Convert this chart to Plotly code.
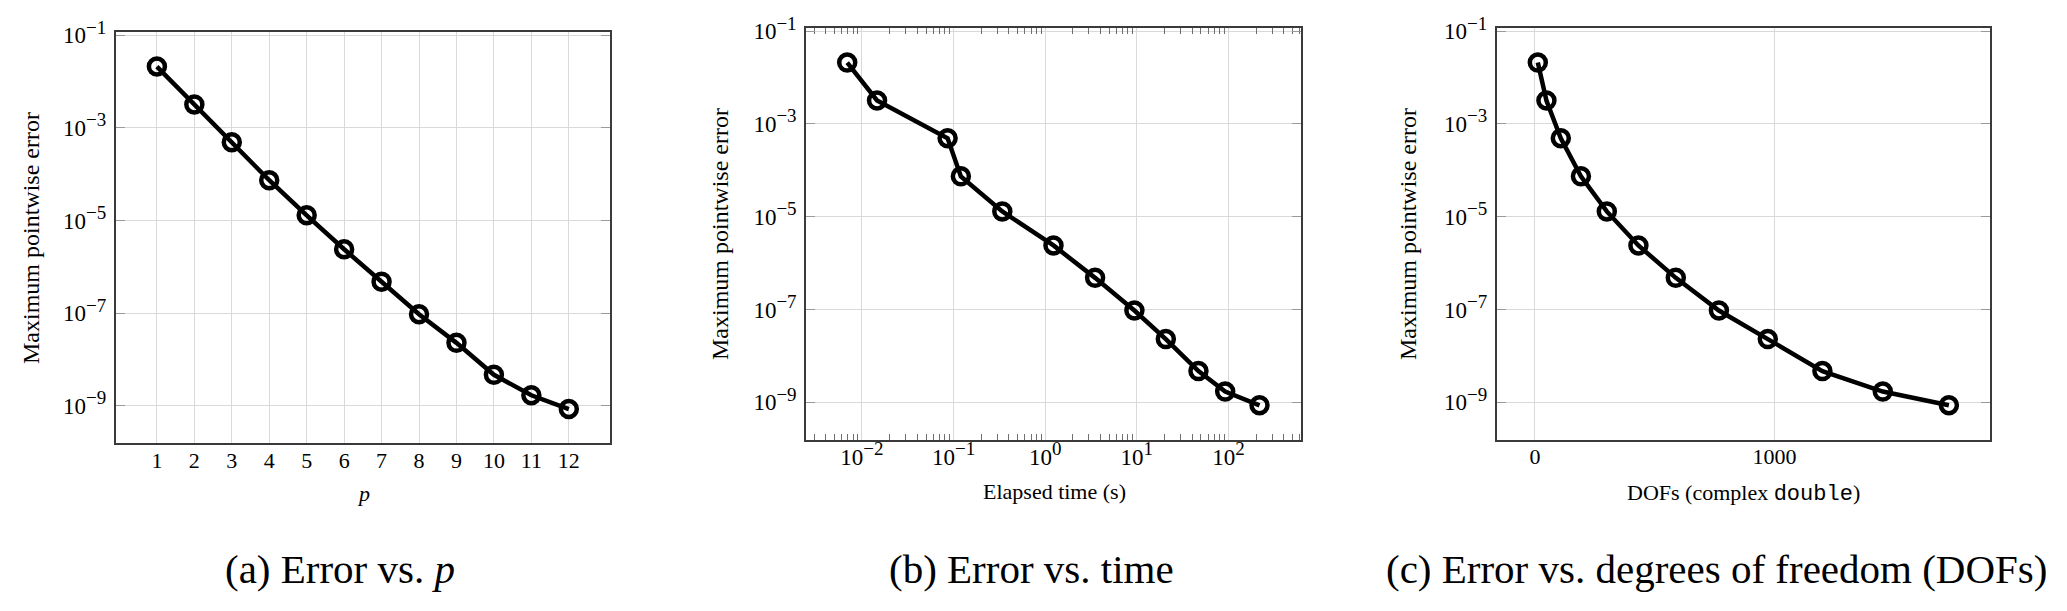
import plotly.graph_objects as go

# ---- data ----
p_values = [1, 2, 3, 4, 5, 6, 7, 8, 9, 10, 11, 12]
max_error = [2.1e-2, 3.2e-3, 4.9e-4, 7.4e-5, 1.3e-5, 2.4e-6, 4.8e-7, 9.5e-8, 2.3e-8, 4.7e-9, 1.7e-9, 8.6e-10]
elapsed_time = [0.0069, 0.0146, 0.086, 0.12, 0.34, 1.23, 3.5, 9.4, 20.7, 47, 92, 218]
dofs = [12, 48, 108, 192, 300, 432, 588, 768, 972, 1200, 1452, 1728]

SUP = "<sup><span style='font-size:19px'>{}</span></sup>"
y_tickvals = [1e-1, 1e-3, 1e-5, 1e-7, 1e-9]
y_ticktext = ["10" + SUP.format(s) for s in ["\u22121", "\u22123", "\u22125", "\u22127", "\u22129"]]
t_tickvals = [1e-2, 1e-1, 1e0, 1e1, 1e2]
t_ticktext = ["10" + SUP.format(s) for s in ["\u22122", "\u22121", "0", "1", "2"]]
dof_tickvals = [0, 1000]
dof_ticktext = ["0", "1000"]

y_title = "Maximum pointwise error"
x_titles = ["<i>p</i>", "Elapsed time (s)",
            "DOFs (complex <span style=\"font-family:'Liberation Mono',monospace\">double</span>)"]
captions = ["(a) Error vs. <i>p</i>", "(b) Error vs. time",
            "(c) Error vs. degrees of freedom (DOFs)"]

W, H = 2067, 611
FONT = "Liberation Serif, 'Times New Roman', 'DejaVu Serif', serif"

def px_x(v):
    return v / W

def px_y(v):
    return 1 - v / H

line_style = dict(color="black", width=4.5)
marker_style = dict(symbol="circle-open", size=16, color="black", line=dict(width=4.5, color="black"))

fig = go.Figure()
fig.add_trace(go.Scatter(x=p_values, y=max_error, mode="lines+markers", line=line_style,
                         marker=marker_style, xaxis="x", yaxis="y", showlegend=False))
fig.add_trace(go.Scatter(x=elapsed_time, y=max_error, mode="lines+markers", line=line_style,
                         marker=marker_style, xaxis="x2", yaxis="y2", showlegend=False))
fig.add_trace(go.Scatter(x=dofs, y=max_error, mode="lines+markers", line=line_style,
                         marker=marker_style, xaxis="x3", yaxis="y3", showlegend=False))

GRID = "#d9d9d9"
LINE = "#3a3a3a"

common_axis = dict(showline=True, linecolor=LINE, linewidth=1.6, mirror=True,
                   showgrid=True, gridcolor=GRID, gridwidth=1.3, zeroline=False,
                   automargin=False)

yaxis_common = dict(common_axis, type="log", range=[-9.805, -0.939], tickmode="array",
                    tickvals=y_tickvals, ticktext=y_ticktext, ticks="inside", ticklen=9,
                    tickcolor="#9a9a9a", tickwidth=1.3, ticklabelstandoff=3,
                    tickfont=dict(family=FONT, size=23, color="black"))
yaxis_common["mirror"] = "allticks"

# domains (pixel positions measured on the reference)
d1x = [px_x(115.7), px_x(610)]
d1y = [px_y(443.3), px_y(32.3)]
d2x = [px_x(806), px_x(1300.7)]
d2y = [px_y(439.6), px_y(28.3)]
d3x = [px_x(1496.7), px_x(1990)]
d3y = [px_y(439.6), px_y(28.3)]

minor_vals = [k * 10.0 ** e for e in range(-3, 3) for k in range(2, 10)]

fig.update_layout(
    width=W, height=H,
    margin=dict(l=0, r=0, t=0, b=0, autoexpand=False),
    paper_bgcolor="white", plot_bgcolor="white",
    font=dict(family=FONT, color="black", size=22),
    xaxis=dict(common_axis, domain=d1x, anchor="y", range=[-0.1, 13.1], tickmode="array",
               tickvals=p_values, ticktext=[str(v) for v in p_values], ticks="",
               ticklabelstandoff=-4, tickfont=dict(family=FONT, size=22, color="black")),
    yaxis=dict(yaxis_common, domain=d1y, anchor="x"),
    xaxis2=dict(common_axis, domain=d2x, anchor="y2", type="log", range=[-2.611, 2.788],
                tickmode="array", tickvals=t_tickvals, ticktext=t_ticktext, ticks="",
                mirror="allticks", ticklabelstandoff=-4,
                tickfont=dict(family=FONT, size=23, color="black"),
                minor=dict(tickmode="array", tickvals=minor_vals, ticks="inside", ticklen=6,
                           tickwidth=1.1, tickcolor="#707070", showgrid=False)),
    yaxis2=dict(yaxis_common, domain=d2y, anchor="x2"),
    xaxis3=dict(common_axis, domain=d3x, anchor="y3", range=[-159.6, 1899.6],
                tickmode="array", tickvals=dof_tickvals, ticktext=dof_ticktext, ticks="",
                ticklabelstandoff=-4, tickfont=dict(family=FONT, size=22, color="black")),
    yaxis3=dict(yaxis_common, domain=d3y, anchor="x3"),
)

annotations = []
# y-axis titles
for xc, yc in [(31, 238), (720, 234), (1408, 234)]:
    annotations.append(dict(text=y_title, x=px_x(xc), y=px_y(yc), xref="paper", yref="paper",
                            xanchor="center", yanchor="middle", textangle=-90, showarrow=False,
                            font=dict(family=FONT, size=24, color="black")))
# x-axis titles
for txt, xc, yc in zip(x_titles, [363, 1054, 1743], [493, 491, 493]):
    annotations.append(dict(text=txt, x=px_x(xc), y=px_y(yc), xref="paper", yref="paper",
                            xanchor="center", yanchor="middle", showarrow=False,
                            font=dict(family=FONT, size=22, color="black")))
# sub-figure captions
for txt, xc in zip(captions, [340, 1031, 1716]):
    annotations.append(dict(text=txt, x=px_x(xc), y=px_y(569), xref="paper", yref="paper",
                            xanchor="center", yanchor="middle", showarrow=False,
                            font=dict(family=FONT, size=41, color="black")))
fig.update_layout(annotations=annotations)

fig.write_html("out.html", config={"displayModeBar": False},
               post_script="document.body.style.margin='0px';")
